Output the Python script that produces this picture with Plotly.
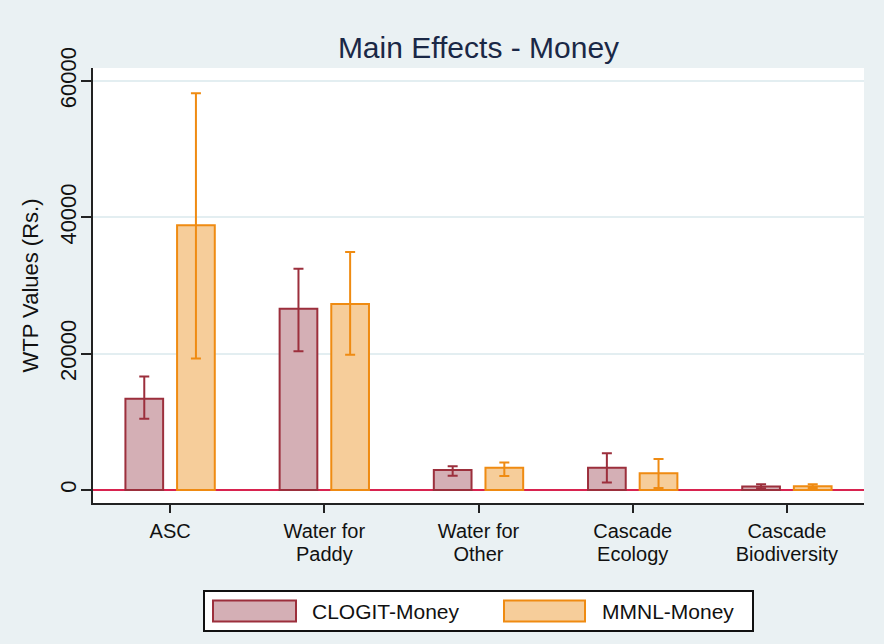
import plotly.graph_objects as go

categories = ["ASC", "Water for Paddy", "Water for Other", "Cascade Ecology", "Cascade Biodiversity"]
tick_line1 = ["ASC", "Water for", "Water for", "Cascade", "Cascade"]
tick_line2 = ["", "Paddy", "Other", "Ecology", "Biodiversity"]

clogit = [13400, 26600, 2950, 3250, 500]
clogit_lo = [10450, 20350, 2100, 1100, 250]
clogit_hi = [16650, 32450, 3500, 5400, 850]

mmnl = [38850, 27300, 3250, 2450, 550]
mmnl_lo = [19300, 19850, 2050, 300, 300]
mmnl_hi = [58200, 34900, 4050, 4550, 850]

series_names = ["CLOGIT-Money", "MMNL-Money"]
y_ticks = [0, 20000, 40000, 60000]

FONT = "Liberation Sans, Arial, sans-serif"
MAROON = "#9C2F3C"
MAROON_FILL = "#D4AFB5"
ORANGE = "#EF8B12"
ORANGE_FILL = "#F6CD9A"
BG = "#EAF1F3"

fig = go.Figure()
for name, vals, lo, hi, line_c, fill_c in [
    (series_names[0], clogit, clogit_lo, clogit_hi, MAROON, MAROON_FILL),
    (series_names[1], mmnl, mmnl_lo, mmnl_hi, ORANGE, ORANGE_FILL),
]:
    fig.add_trace(go.Bar(
        x=categories, y=vals, name=name, showlegend=False,
        marker=dict(color=fill_c, line=dict(color=line_c, width=2)),
        error_y=dict(type="data", symmetric=False,
                     array=[h - v for h, v in zip(hi, vals)],
                     arrayminus=[v - l for v, l in zip(vals, lo)],
                     color=line_c, thickness=2, width=5),
    ))

# invisible helper trace to attach second-line tick labels axis
fig.add_trace(go.Scatter(x=[0], y=[0], xaxis="x2", mode="markers",
                         marker=dict(opacity=0), showlegend=False, hoverinfo="skip"))

fig.update_layout(
    width=884, height=644,
    paper_bgcolor=BG, plot_bgcolor="white",
    margin=dict(l=93, r=20, t=68, b=141),
    barmode="group", bargap=0.33, bargroupgap=0.27,
    font=dict(family=FONT, color="#111111"),
    title=dict(text="Main Effects - Money", x=0.5, xref="paper", xanchor="center",
               y=1 - 47 / 644, yref="container", yanchor="middle",
               font=dict(size=30, color="#1A2846", family=FONT)),
    xaxis=dict(type="category", categoryarray=categories, range=[-0.5, 4.5],
               tickvals=categories, ticktext=tick_line1, automargin=False,
               showline=True, linecolor="#222222", linewidth=2,
               ticks="outside", ticklen=8, tickwidth=2, tickcolor="#222222",
               tickfont=dict(size=20, family=FONT, color="#111111"),
               ticklabelstandoff=1, showgrid=False, zeroline=False, fixedrange=True),
    xaxis2=dict(overlaying="x", anchor="y", side="bottom", range=[-0.5, 4.5],
                tickmode="array", tickvals=list(range(len(categories))), ticktext=tick_line2,
                showline=False, ticks="", showgrid=False, zeroline=False, automargin=False,
                tickfont=dict(size=20, family=FONT, color="#111111"),
                ticklabelstandoff=37),
    yaxis=dict(range=[-1907, 61900], tickvals=y_ticks, automargin=False,
               ticktext=[str(v) for v in y_ticks], tickangle=-90,
               showline=True, linecolor="#222222", linewidth=2,
               ticks="outside", ticklen=10, tickwidth=2, tickcolor="#222222",
               tickfont=dict(size=22, family=FONT, color="#111111"),
               ticklabelstandoff=-4,
               showgrid=True, gridcolor="#E3EEF1", gridwidth=2,
               zeroline=True, zerolinecolor="#D8234F", zerolinewidth=2,
               title=dict(text="WTP Values (Rs.)", standoff=12,
                          font=dict(size=22, family=FONT, color="#111111"))),
)

# custom legend (box, swatches, labels)
def px_x(p):
    return (p - 93) / 771.0

def px_y(p):
    return (503 - p) / 435.0

fig.add_shape(type="rect", xref="paper", yref="paper",
              x0=px_x(204), x1=px_x(753), y0=px_y(631), y1=px_y(591),
              line=dict(color="#111111", width=2), fillcolor="white")
legend_items = [
    (series_names[0], MAROON, MAROON_FILL, 213, 296, 310),
    (series_names[1], ORANGE, ORANGE_FILL, 504, 585, 600),
]
for name, lc, fc, sx0, sx1, tx in legend_items:
    fig.add_shape(type="rect", xref="paper", yref="paper",
                  x0=px_x(sx0), x1=px_x(sx1), y0=px_y(621.5), y1=px_y(600.5),
                  line=dict(color=lc, width=2), fillcolor=fc)
    fig.add_annotation(text=name, xref="paper", yref="paper",
                       x=px_x(tx), y=px_y(611), xanchor="left", yanchor="middle",
                       showarrow=False, font=dict(size=21, family=FONT, color="#111111"))

fig.write_html("out.html", config={"displayModeBar": False},
               post_script="document.body.style.margin='0';")
